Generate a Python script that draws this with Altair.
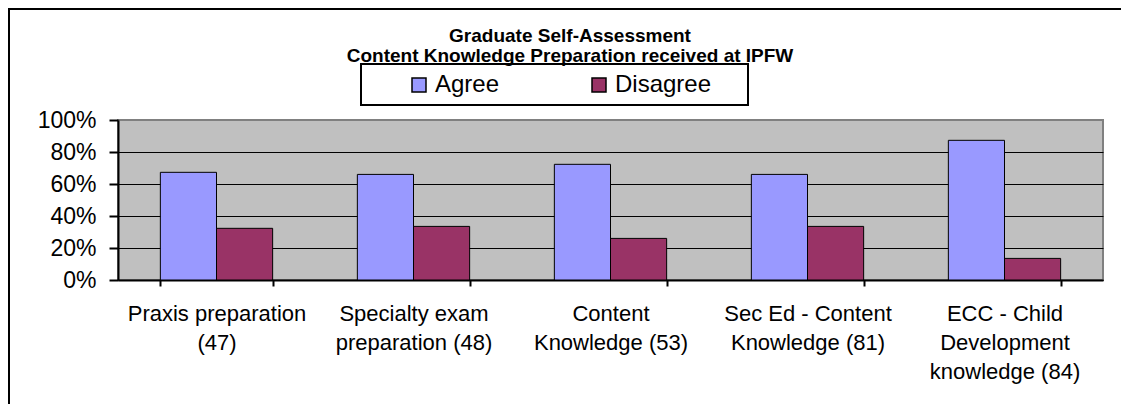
import altair as alt
import pandas as pd

categories = [
    "Praxis preparation\n(47)",
    "Specialty exam\npreparation (48)",
    "Content\nKnowledge (53)",
    "Sec Ed - Content\nKnowledge (81)",
    "ECC - Child\nDevelopment\nknowledge (84)",
]
series = ["Agree", "Disagree"]
agree = [67.3, 66.0, 72.3, 66.0, 87.3]
disagree = [32.3, 33.5, 26.0, 33.5, 13.5]
colors = ["#9999FF", "#993366"]
y_ticks = [0, 20, 40, 60, 80, 100]
title_lines = ["Graduate Self-Assessment", "Content Knowledge Preparation received at IPFW"]

rows = []
for c, a, d in zip(categories, agree, disagree):
    rows.append({"category": c, "series": "Agree", "value": a})
    rows.append({"category": c, "series": "Disagree", "value": d})
df = pd.DataFrame(rows)

W, H = 985, 160
FONT = "Liberation Sans"
one = alt.Data(values=[{"k": 0}])

frame_left = alt.Chart(one).mark_rule(color="black", strokeWidth=2).encode(
    x=alt.value(-109), y=alt.value(-112), y2=alt.value(H + 140)
)
frame_top = alt.Chart(one).mark_rule(color="black", strokeWidth=2).encode(
    x=alt.value(-110), x2=alt.value(W + 30), y=alt.value(-111)
)
legend_box = alt.Chart(one).mark_rect(fill="white", stroke="black", strokeWidth=2).encode(
    x=alt.value(243), x2=alt.value(630), y=alt.value(-56), y2=alt.value(-15)
)
title = alt.Chart(one).mark_text(
    text=title_lines, font=FONT, fontSize=19, fontWeight="bold", lineHeight=20,
    align="center", baseline="alphabetic", color="black"
).encode(x=alt.value(452), y=alt.value(-78))

bars = alt.Chart(df).mark_bar(stroke="black", strokeWidth=1).encode(
    x=alt.X(
        "category:N", sort=categories,
        scale=alt.Scale(paddingInner=0.43, paddingOuter=0.215),
        axis=alt.Axis(
            title=None, labelAngle=0, labelExpr="split(datum.label, '\\n')",
            tickBand="extent", tickSize=6, tickWidth=2, tickColor="black",
            domainColor="black", domainWidth=2, labelFont=FONT, labelFontSize=22,
            labelLineHeight=29, labelPadding=17, labelColor="black", grid=False,
        ),
    ),
    xOffset=alt.XOffset("series:N", sort=series),
    y=alt.Y(
        "value:Q", scale=alt.Scale(domain=[0, 100], nice=False),
        axis=alt.Axis(
            title=None, values=y_ticks, labelExpr="datum.value + '%'",
            labelFont=FONT, labelFontSize=23, labelColor="black", labelPadding=13,
            tickSize=9, tickWidth=2, tickColor="black", domainColor="black", domainWidth=2,
            grid=True, gridWidth=1, gridOpacity=1,
            gridColor=alt.condition("datum.value == 100", alt.value("#808080"), alt.value("black")),
        ),
    ),
    color=alt.Color(
        "series:N", sort=series, scale=alt.Scale(domain=series, range=colors),
        legend=alt.Legend(
            orient="none", legendX=289, legendY=-47, direction="horizontal", title=None,
            symbolType="square", symbolSize=196, symbolStrokeColor="black", symbolStrokeWidth=1.5,
            labelFont=FONT, labelFontSize=24, labelColor="black", labelOffset=4,
            columnPadding=87, padding=0,
        ),
    ),
)

chart = alt.layer(frame_left, frame_top, legend_box, title, bars).properties(
    width=W, height=H,
    autosize=alt.AutoSizeParams(type="none"),
    padding={"left": 110, "top": 112, "right": 18, "bottom": 124},
).configure_view(fill="#C0C0C0", stroke="#808080", strokeWidth=2)

chart.save("out.html", embed_options={"renderer": "svg", "actions": False})
